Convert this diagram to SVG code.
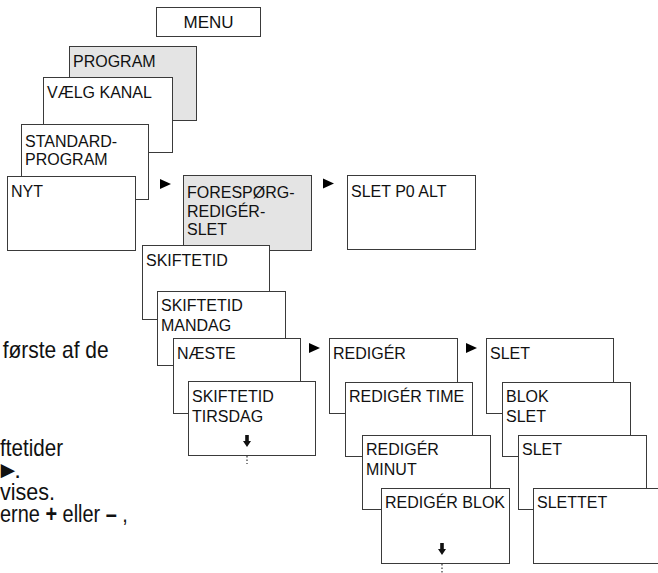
<svg xmlns="http://www.w3.org/2000/svg" width="658" height="573" viewBox="0 0 658 573">
<style>
  .box { fill: #ffffff; stroke: #3a3a3a; stroke-width: 1; }
  .gray { fill: #e4e4e4; }
  .lbl { font-family: "Liberation Sans", Arial, sans-serif; font-size: 16px; fill: #111; }
  .menu { font-family: "Liberation Sans", Arial, sans-serif; font-size: 17px; fill: #111; text-anchor: middle; }
  .body { font-family: "Liberation Sans", Arial, sans-serif; font-size: 24px; fill: #111; }
  .tri { fill: #000; }
  .dots { stroke: #333; stroke-width: 1.2; stroke-dasharray: 1.5 2; fill: none; }
</style>
<defs>
  <path id="down" d="M-1.8,0 H1.8 V6 H4 L0,12 L-4,6 H-1.8 Z"/>
</defs>
<rect width="658" height="573" fill="#ffffff"/>

<!-- partial paragraph text on the left -->
<g id="side-text">
  <text class="body" x="2.7" y="358" textLength="106" lengthAdjust="spacingAndGlyphs">første af de</text>
  <text class="body" x="0" y="456" textLength="63" lengthAdjust="spacingAndGlyphs">ftetider</text>
  <text class="body" x="-4" y="478">►<tspan dx="-5.5">.</tspan></text>
  <text class="body" x="0" y="500" textLength="55" lengthAdjust="spacingAndGlyphs">vises.</text>
  <text class="body" transform="scale(0.83 1)" x="0" y="522">erne <tspan font-weight="bold">+</tspan> eller <tspan font-weight="bold">–</tspan> ,</text>
</g>

<g id="menu">
  <rect class="box" x="156.5" y="7.5" width="104" height="29"/>
  <text class="menu" x="208.5" y="28.3">MENU</text>
</g>
<g id="program">
  <rect class="box gray" x="69.5" y="46.5" width="127" height="74"/>
  <text class="lbl" x="73" y="67">PROGRAM</text>
</g>
<g id="vaelg-kanal">
  <rect class="box" x="43.5" y="77.5" width="129" height="75"/>
  <text class="lbl" x="47" y="98">VÆLG KANAL</text>
</g>
<g id="standard-program">
  <rect class="box" x="21.5" y="124.5" width="127" height="75"/>
  <text class="lbl" x="25" y="146.5">STANDARD-</text>
  <text class="lbl" x="25" y="164.5">PROGRAM</text>
</g>
<g id="nyt">
  <rect class="box" x="7.5" y="176.5" width="128" height="74"/>
  <text class="lbl" x="11" y="196.5">NYT</text>
</g>
<g id="forespoerg">
  <rect class="box gray" x="183.5" y="175.5" width="128" height="75"/>
  <text class="lbl" x="187" y="198.3">FORESPØRG-</text>
  <text class="lbl" x="187" y="216.7">REDIGÉR-</text>
  <text class="lbl" x="187" y="235">SLET</text>
</g>
<g id="slet-p0-alt">
  <rect class="box" x="347.5" y="175.5" width="128" height="74"/>
  <text class="lbl" x="351" y="196.7">SLET P0 ALT</text>
</g>
<g id="skiftetid">
  <rect class="box" x="142.5" y="245.5" width="127" height="74"/>
  <text class="lbl" x="146" y="266">SKIFTETID</text>
</g>
<g id="skiftetid-mandag">
  <rect class="box" x="157.5" y="291.5" width="128" height="74"/>
  <text class="lbl" x="161" y="310.5">SKIFTETID</text>
  <text class="lbl" x="161" y="330.5">MANDAG</text>
</g>
<g id="naeste">
  <rect class="box" x="173.5" y="338.5" width="127" height="75"/>
  <text class="lbl" x="177" y="358.5">NÆSTE</text>
</g>
<g id="skiftetid-tirsdag">
  <rect class="box" x="188.5" y="381.5" width="127" height="74"/>
  <text class="lbl" x="192" y="402.3">SKIFTETID</text>
  <text class="lbl" x="192" y="421.7">TIRSDAG</text>
  <use href="#down" x="247" y="435" fill="#111"/>
</g>
<g id="rediger">
  <rect class="box" x="329.5" y="338.5" width="128" height="75"/>
  <text class="lbl" x="333" y="358.5">REDIGÉR</text>
</g>
<g id="rediger-time">
  <rect class="box" x="345.5" y="382.5" width="127" height="74"/>
  <text class="lbl" x="349" y="402.3">REDIGÉR TIME</text>
</g>
<g id="rediger-minut">
  <rect class="box" x="362.5" y="435.5" width="128" height="74"/>
  <text class="lbl" x="366" y="455.3">REDIGÉR</text>
  <text class="lbl" x="366" y="475">MINUT</text>
</g>
<g id="rediger-blok">
  <rect class="box" x="381.5" y="488.5" width="128" height="75"/>
  <text class="lbl" x="385" y="508.3">REDIGÉR BLOK</text>
  <use href="#down" x="442" y="543" fill="#111"/>
</g>
<g id="slet">
  <rect class="box" x="486.5" y="338.5" width="127" height="75"/>
  <text class="lbl" x="490" y="358.5">SLET</text>
</g>
<g id="blok-slet">
  <rect class="box" x="502.5" y="382.5" width="128" height="74"/>
  <text class="lbl" x="506" y="402.3">BLOK</text>
  <text class="lbl" x="506" y="421.7">SLET</text>
</g>
<g id="slet-2">
  <rect class="box" x="518.5" y="435.5" width="128" height="74"/>
  <text class="lbl" x="522" y="455.3">SLET</text>
</g>
<g id="slettet">
  <rect class="box" x="533.5" y="488.5" width="128" height="75"/>
  <text class="lbl" x="537" y="508.3">SLETTET</text>
</g>

<g id="connectors">
  <polygon class="tri" points="160,179 171,184 160,189"/>
  <polygon class="tri" points="323,178.5 334,183.5 323,188.5"/>
  <polygon class="tri" points="309,343 320,348 309,353"/>
  <polygon class="tri" points="466,343 477,348 466,353"/>
  <line class="dots" x1="247" y1="456" x2="247" y2="464"/>
  <line class="dots" x1="442" y1="564" x2="442" y2="573"/>
</g>
</svg>
